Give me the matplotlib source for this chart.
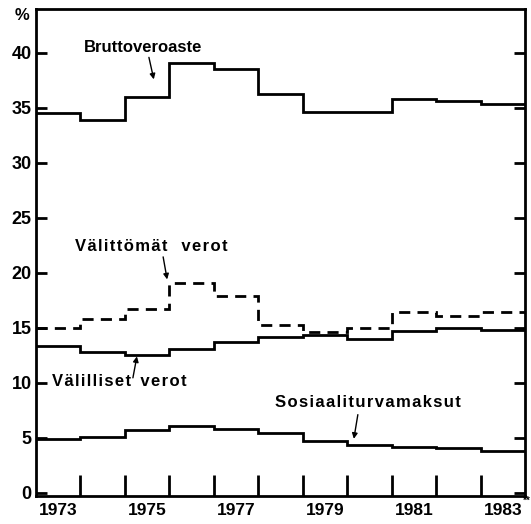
import numpy as np
import matplotlib
matplotlib.use('Agg')
import matplotlib.pyplot as plt

years = np.arange(1973, 1984)
brutto = [34.5, 33.9, 36.0, 39.1, 38.5, 36.3, 34.6, 34.6, 35.8, 35.6, 35.4]
valittomat = [15.0, 15.8, 16.7, 19.1, 17.9, 15.3, 14.6, 15.0, 16.4, 16.1, 16.4]
valilliset = [13.3, 12.8, 12.5, 13.1, 13.7, 14.2, 14.35, 14.0, 14.7, 15.0, 14.8]
sosiaali = [4.9, 5.1, 5.7, 6.1, 5.8, 5.45, 4.7, 4.3, 4.2, 4.05, 3.75]
year_labels = ['1973', '1975', '1977', '1979', '1981', '1983']

font = ['Liberation Sans Narrow', 'Liberation Sans']
lfont = ['Liberation Sans']
edges = np.arange(years[0] - 0.5, years[-1] + 1.0, 1.0)


def spaced(s):
    # a little letter spacing, like the typewriter-ish labels of the original
    return '\u200a'.join(s)


fig = plt.figure(figsize=(5.31, 5.24), dpi=100)
ax = fig.add_axes([36/531, 28/524, 489/531, 487/524])

lw = 2.0
ax.stairs(brutto, edges, baseline=None, color='k', lw=lw)
ax.stairs(valilliset, edges, baseline=None, color='k', lw=lw)
ax.stairs(sosiaali, edges, baseline=None, color='k', lw=lw)
ax.stairs(valittomat, edges, baseline=None, color='k', lw=lw, linestyle=(0, (4, 2.6)))

ax.set_xlim(edges[0], edges[-1])
ax.set_ylim(-0.3, 44)

for s in ax.spines.values():
    s.set_linewidth(2)

ax.set_yticks(np.arange(0, 45, 5))
ax.set_yticklabels([str(v) for v in range(0, 45, 5)], fontsize=13, fontweight='bold', family=font)
ax.tick_params(axis='y', direction='in', length=8, width=2, right=True, pad=3)

ax.set_xticks(years[::2])
ax.set_xticklabels(year_labels, fontsize=12.5, fontweight='bold', family=font)
ax.set_xticks(edges[1:-1], minor=True)
ax.tick_params(axis='x', which='major', length=0, pad=5)
ax.tick_params(axis='x', which='minor', direction='in', length=15, width=2)

fig.text(523/531, 1 - 501/524, '**', fontsize=7, fontweight='bold', family=font,
         ha='left', va='center')
fig.text(22/531, 1 - 15/524, '%', fontsize=12, fontweight='bold', family=font,
         ha='center', va='center')

arrow = dict(arrowstyle='-|>', color='k', lw=1.0, mutation_scale=8, shrinkA=0, shrinkB=0)
lab = dict(fontsize=12, fontweight='bold', family=lfont, ha='center', va='center')
ax.annotate('', xy=(1975.15, 37.6), xytext=(1975.04, 39.6), arrowprops=arrow)
ax.text(1974.91, 40.5, 'Bruttoveroaste', **lab)
ax.annotate('', xy=(1975.45, 19.4), xytext=(1975.36, 21.45), arrowprops=arrow)
ax.text(1975.09, 22.4, spaced('Välittömät') + '   ' + spaced('verot'), **lab)
ax.annotate('', xy=(1974.77, 12.4), xytext=(1974.68, 10.45), arrowprops=arrow)
ax.text(1974.37, 10.1, spaced('Välilliset') + '  ' + spaced('verot'), **lab)
ax.annotate('', xy=(1979.65, 4.9), xytext=(1979.74, 7.1), arrowprops=arrow)
ax.text(1979.97, 8.2, spaced('Sosiaaliturvamaksut'), **lab)

fig.savefig('out.png', dpi=100)
